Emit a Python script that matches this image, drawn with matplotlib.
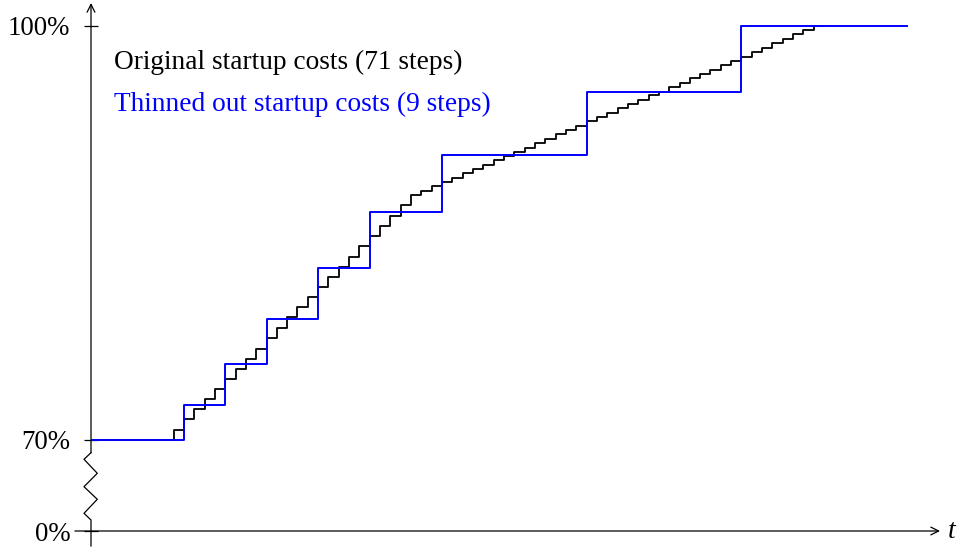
import numpy as np
import matplotlib
matplotlib.use("Agg")
import matplotlib.pyplot as plt

plt.rcParams['font.family'] = ['Liberation Serif', 'DejaVu Serif']

# original startup costs (in % of cold start), one value per time step t = 0..70
orig_costs = [70.00, 70.00, 70.00, 70.00, 70.00, 70.00, 70.00, 70.00,
              70.72, 71.50, 72.22, 72.94, 73.67, 74.39, 75.15, 75.88,
              76.60, 77.35, 78.10, 78.87, 79.59, 80.32, 81.06, 81.81,
              82.51, 83.28, 84.02, 84.75, 85.52, 86.24, 86.99, 87.71,
              88.02, 88.36, 88.67, 88.99, 89.32, 89.61, 89.93, 90.26,
              90.58, 90.84, 91.13, 91.49, 91.81, 92.12, 92.41, 92.72,
              93.06, 93.37, 93.69, 94.00, 94.31, 94.63, 94.94, 95.18,
              95.54, 95.83, 96.19, 96.51, 96.80, 97.16, 97.42, 97.74,
              98.07, 98.39, 98.75, 99.04, 99.40, 99.66, 100.00]

# thinned out startup costs: start of each step and its level
thin_starts = [0, 9, 13, 17, 22, 27, 34, 48, 63]
thin_costs = [70.00, 72.53, 75.47, 78.78, 82.48, 86.48, 90.60, 95.16, 100.00]
t_end = 79

tick_pos = [63.41, 70, 100]          # 0% drawn at the broken bottom
tick_labels = [r'0%', r'70%', r'100%']

fig = plt.figure(figsize=(9.58, 5.48), dpi=100)
ax = fig.add_axes([91/958, 17/548, 849/958, 528/548])
ax.set_xlim(0, 82.23)
ax.set_ylim(63.41, 101.63)
for s in ax.spines.values():
    s.set_visible(False)

t_orig = np.arange(len(orig_costs))
ax.step(np.append(t_orig, t_orig[-1] + 1), np.append(orig_costs, orig_costs[-1]),
        where='post', color='black', lw=1.3, zorder=2)
ax.step(np.append(thin_starts, t_end), np.append(thin_costs, thin_costs[-1]),
        where='post', color='#0000ff', lw=1.4, zorder=3)

# axes with arrows
ax.annotate('', xy=(1.0, 0), xytext=(-0.019, 0), xycoords='axes fraction',
            arrowprops=dict(arrowstyle='->', lw=0.9, color='black',
                            shrinkA=0, shrinkB=0, mutation_scale=14))
ax.annotate('', xy=(0, 1.0), xytext=(0, (531 - 452.7) / 528), xycoords='axes fraction',
            arrowprops=dict(arrowstyle='->', lw=0.9, color='black',
                            shrinkA=0, shrinkB=0, mutation_scale=14))
# axis break (zigzag)
zx = np.array([0, -7, 6.3, -7, 6.3, -7, 0, 0]) / 849
zy = (531 - np.array([452.7, 459.3, 473.3, 486.7, 499.3, 513.3, 520, 546])) / 528
ax.plot(zx, zy, color='black', lw=0.9, transform=ax.transAxes, clip_on=False)

ax.set_xticks([])
ax.set_yticks(tick_pos)
ax.set_yticklabels(tick_labels, fontsize=19.3)
ax.tick_params(axis='y', direction='inout', length=10, width=0.9, pad=10)

ax.text(1.0094, 0, 't', transform=ax.transAxes, ha='left', va='center',
        fontsize=20, style='italic')

ax.text(0.027, 0.888, 'Original startup costs (71 steps)', transform=ax.transAxes,
        ha='left', va='center', fontsize=19.7, color='black')
ax.text(0.027, 0.807, 'Thinned out startup costs (9 steps)', transform=ax.transAxes,
        ha='left', va='center', fontsize=19.7, color='#0000ff')

fig.savefig('out.png', dpi=100)
